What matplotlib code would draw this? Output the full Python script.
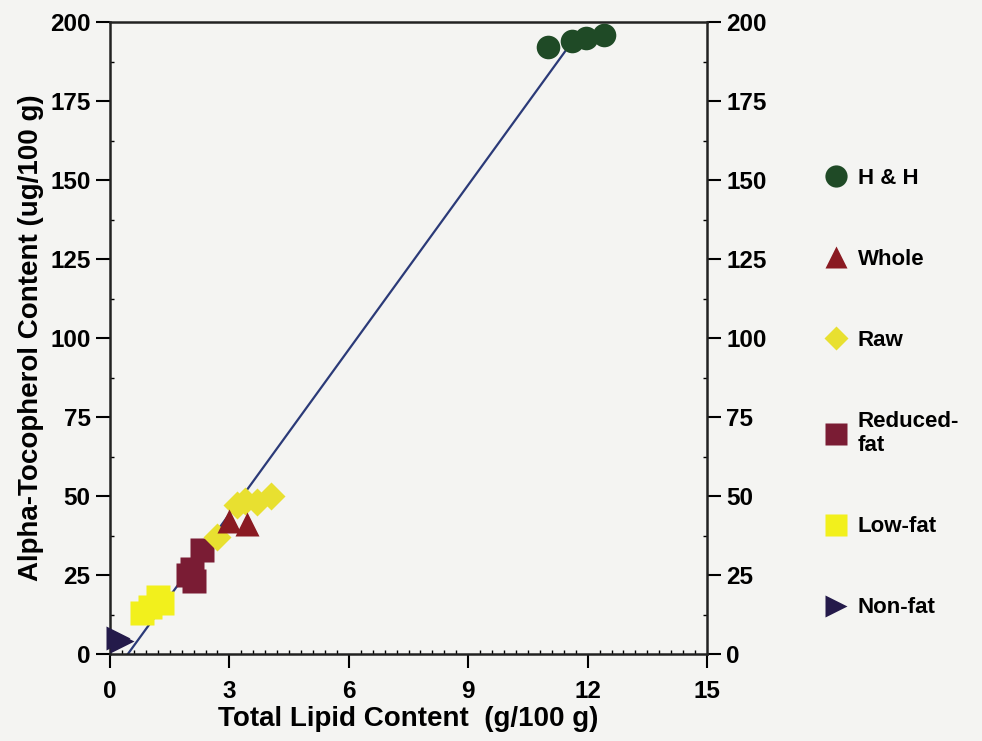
import matplotlib.pyplot as plt
from matplotlib.lines import Line2D

plt.rcParams['font.family'] = ['Liberation Sans', 'DejaVu Sans']
plt.rcParams['font.weight'] = 'bold'

# data
hh_x = [11.0, 11.6, 11.95, 12.4]
hh_y = [192, 194, 195, 196]
whole_x = [3.0, 3.45]
whole_y = [42, 41]
raw_x = [2.7, 3.2, 3.4, 3.7, 4.05]
raw_y = [37, 47, 48.5, 48, 50]
reduced_x = [2.3, 2.05, 2.1, 1.95]
reduced_y = [33, 27, 23, 25]
low_x = [0.8, 1.0, 1.2, 1.3]
low_y = [13, 15, 18, 16]
non_x = [0.2, 0.3]
non_y = [5, 4]

# regression line
slope = 17.36
intercept = -7.8
line_x = [0.45, 11.75]

bg = '#f4f4f2'
fig = plt.figure(figsize=(9.82, 7.41), dpi=100, facecolor=bg)
ax = fig.add_axes([0.112, 0.1174, 0.608, 0.8529], facecolor=bg)

ax.plot(line_x, [slope * v + intercept for v in line_x], color='#2b3a78', lw=1.6, zorder=2)

ax.plot(low_x, low_y, 's', color='#f2f01c', ms=17, mec='none', zorder=3)
ax.plot(reduced_x, reduced_y, 's', color='#7a1c34', ms=17, mec='none', zorder=3)
ax.plot(raw_x, raw_y, 'D', color='#e8e030', ms=14, mec='none', zorder=3)
ax.plot(whole_x, whole_y, '^', color='#8a1a22', ms=17, mec='none', zorder=3)
ax.plot(non_x, non_y, '>', color='#241a4a', ms=17, mec='none', zorder=4, clip_on=False)
ax.plot(hh_x, hh_y, 'o', color='#1f4a26', ms=17, mec='none', zorder=4, clip_on=False)

ax.set_xlim(0, 15)
ax.set_ylim(0, 200)
ax.set_xticks([0, 3, 6, 9, 12, 15])
ax.set_xticks([0.3 * i for i in range(1, 50) if i % 10], minor=True)
ax.set_yticks([0, 25, 50, 75, 100, 125, 150, 175, 200])
ax.set_yticks([12.5 + 25 * i for i in range(8)], minor=True)
ax.tick_params(direction='out', length=10, width=1.5, labelsize=17.5)
ax.tick_params(axis='x', pad=9)
ax.tick_params(axis='y', right=True, labelright=True, pad=4)
ax.tick_params(which='minor', direction='in', length=3, width=1)
ax.tick_params(axis='y', which='minor', right=True)
for s in ax.spines.values():
    s.set_linewidth(1.8)
    s.set_color('#222222')

ax.set_xlabel('Total Lipid Content  (g/100 g)', fontsize=20, fontweight='bold', labelpad=2)
ax.set_ylabel('Alpha-Tocopherol Content (ug/100 g)', fontsize=20, fontweight='bold', labelpad=4)

handles = [
    Line2D([], [], ls='none', marker='o', color='#1f4a26', ms=16, mec='none'),
    Line2D([], [], ls='none', marker='^', color='#8a1a22', ms=16, mec='none'),
    Line2D([], [], ls='none', marker='D', color='#e8e030', ms=12, mec='none'),
    Line2D([], [], ls='none', marker='s', color='#7a1c34', ms=16, mec='none'),
    Line2D([], [], ls='none', marker='s', color='#f2f01c', ms=16, mec='none'),
    Line2D([], [], ls='none', marker='>', color='#241a4a', ms=16, mec='none'),
]
labels = ['H & H', 'Whole', 'Raw', 'Reduced-\nfat', 'Low-fat', 'Non-fat']
fig.legend(handles, labels, loc='upper left', bbox_to_anchor=(0.817, 0.8),
           frameon=False, fontsize=16, labelspacing=2.7, handletextpad=0.4,
           handlelength=1.2)

fig.savefig('out.png', dpi=100, facecolor=bg)
